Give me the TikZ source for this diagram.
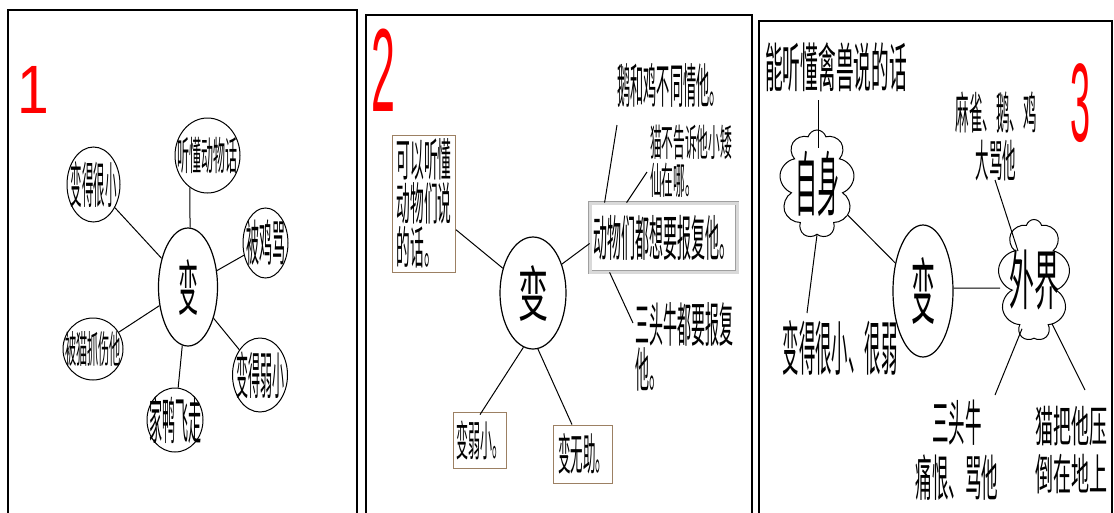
\documentclass[tikz,border=0pt]{standalone}
\usepackage{fontspec}
\usepackage{graphicx}
\usetikzlibrary{shapes.geometric,shapes.symbols}
\newfontfamily\cjk{Noto Sans CJK SC}
\newfontfamily\numfont{Liberation Sans}
\newcommand{\T}[3]{{\cjk\fontsize{#1}{#1}\selectfont\scalebox{1}[#2]{#3}}}
\newcommand{\Dg}[3]{{\numfont\fontsize{#1}{#1}\selectfont\scalebox{1}[#2]{#3}}}
\newcommand{\Ln}[2]{\scalebox{1}[#1]{#2}}
\definecolor{numred}{RGB}{255,0,0}
\begin{document}
\begin{tikzpicture}[x=1pt,y=-1pt,
  panel/.style={draw=black, line width=1.6pt},
  bub/.style={ellipse, draw, line width=1pt, inner sep=0pt},
  hub/.style={ellipse, draw, line width=1.2pt, inner sep=0pt},
  link/.style={draw, line width=1pt},
  tbox/.style={rectangle, draw=brown!45!gray, line width=0.8pt, inner sep=0pt},
  bigbox/.style={rectangle, draw=gray!75, double=gray!30, double distance=3pt, line width=0.8pt, inner sep=0pt},
  puff/.style={cloud, cloud puffs=9, cloud ignores aspect, draw, line width=1pt, inner sep=0pt},
  txt/.style={inner sep=0pt},
  num/.style={inner sep=0pt, text=numred}
]
\useasboundingbox (0,0) rectangle (1114,512);
\fill[white] (0,0) rectangle (1114,512);

% panels
\draw[panel] (8,530) -- (8,10) -- (357,10) -- (357,530);
\draw[panel] (366,530) -- (366,15) -- (752,15) -- (752,530);
\draw[panel] (759,530) -- (759,21) -- (1112,21) -- (1112,530);

% numbers
\node[num] (n1) at (33.5,90) {\Dg{57}{1.2}{1}};
\node[num] (n2) at (383,70) {\Dg{43}{2.75}{2}};
\node[num] (n3) at (1080,103) {\Dg{36}{3.1}{3}};

% ---------- panel 1
\node[hub, minimum width=59, minimum height=118, label={center:{\T{20}{3}{变}}}] (c1) at (188,287) {};
\node[bub, minimum width=53, minimum height=75, label={center:{\T{11.5}{4.3}{变得很小}}}] (s11) at (93.5,184.5) {};
\node[bub, minimum width=65, minimum height=75, label={center:{\T{12}{3.3}{听懂动物话}}}] (s12) at (207.5,155.5) {};
\node[bub, minimum width=45, minimum height=70, label={center:{\T{13}{3.8}{被鸡骂}}}] (s13) at (265.5,243) {};
\node[bub, minimum width=55, minimum height=74, label={center:{\T{12}{4.2}{变得弱小}}}] (s14) at (260,375) {};
\node[bub, minimum width=56, minimum height=64, label={center:{\T{13}{3.9}{家鸭飞走}}}] (s15) at (175,420) {};
\node[bub, minimum width=60, minimum height=62, label={center:{\T{11.2}{3.4}{被猫抓伤他}}}] (s16) at (93,349) {};

\draw[link] (c1) -- (s11);
\draw[link] (c1.88) -- (s12.241);
\draw[link] (c1) -- (s13);
\draw[link] (c1) -- (s14);
\draw[link] (c1) -- (s15);
\draw[link] (c1) -- (s16);

% ---------- panel 2
\node[hub, minimum width=66, minimum height=112, label={center:{\T{30}{2}{变}}}] (c2) at (533,293) {};
\node[tbox, minimum width=63, minimum height=137,
  label={[align=left, font=\cjk\fontsize{13.7}{44}\selectfont]center:{\Ln{3.3}{可以听懂}\\\Ln{3.3}{动物们说}\\\Ln{3.3}{的话。}}}] (b21) at (424,203.5) {};
\node[bigbox, minimum width=147, minimum height=69, label={center:{\T{14}{3.5}{动物们都想要报复他。}}}] (b22) at (663.5,237.5) {};
\node[txt] (t23) at (670,85) {\T{13.2}{3.6}{鹅和鸡不同情他。}};
\node[txt, align=left, font=\cjk\fontsize{11.7}{38}\selectfont] (t24) at (691,161) {\Ln{3.2}{猫不告诉他小矮}\\\Ln{3.2}{仙在哪。}};
\node[txt, align=left, font=\cjk\fontsize{14}{45}\selectfont] (t25) at (684,347) {\Ln{3.4}{三头牛都要报复}\\\Ln{3.4}{他。}};
\node[tbox, minimum width=53, minimum height=56, label={center:{\T{12}{3.5}{变弱小。}}}] (b26) at (480,440) {};
\node[tbox, minimum width=59, minimum height=58, label={center:{\T{12.5}{3.5}{变无助。}}}] (b27) at (583,454) {};

\draw[link] (b21) -- (c2);
\draw[link] (c2.45) -- ([yshift=-6pt]b22.west);
\draw[link] ([xshift=15pt]b22.north west) -- ([xshift=-53pt,yshift=-40pt]t23.center);
\draw[link] ([xshift=37pt]b22.north west) -- ([xshift=-44pt,yshift=-11pt]t24.center);
\draw[link] ([xshift=20pt]b22.south west) -- ([xshift=-51pt,yshift=24pt]t25.center);
\draw[link] (c2.260) -- ([yshift=-3pt]b26.north);
\draw[link] (c2.275) -- ([xshift=-11pt]b27.north);

% ---------- panel 3
\node[txt] (t31) at (836,67) {\T{17.7}{3}{能听懂禽兽说的话}};
\node[puff, minimum width=75, minimum height=108, label={center:{\T{22}{3.2}{自身}}}] (cl32) at (817,184) {};
\node[hub, minimum width=60, minimum height=132, label={center:{\T{24}{3}{变}}}] (c3) at (923,291) {};
\node[puff, minimum width=72, minimum height=121, label={center:{\T{25}{2.6}{外界}}}] (cl33) at (1034,280) {};
\node[txt, align=center, font=\cjk\fontsize{13.5}{48}\selectfont] (t34) at (996,136) {\Ln{3.3}{麻雀、鹅、鸡}\\\Ln{3.3}{大骂他}};
\node[txt] (t35) at (840,348) {\T{16.4}{3.6}{变得很小、很弱}};
\node[txt, align=center, font=\cjk\fontsize{16.5}{55}\selectfont] (t36) at (957,450) {\Ln{3}{三头牛}\\\Ln{3}{痛恨、骂他}};
\node[txt, align=center, font=\cjk\fontsize{18}{48}\selectfont] (t37) at (1071,450) {\Ln{2.4}{猫把他压}\\\Ln{2.4}{倒在地上}};

\draw[link] ([xshift=-18pt,yshift=-33pt]t31.center) -- ([xshift=1pt,yshift=-18pt]cl32.north);
\draw[link] (cl32) -- (c3);
\draw[link] ([yshift=3pt]c3.east) -- ([yshift=-8pt]cl33.west);
\draw[link] (cl32.south) -- ([xshift=-33pt,yshift=35pt]t35.center);
\draw[link] ([xshift=-1pt,yshift=-44pt]t34.center) -- ([xshift=-16pt,yshift=-32pt]cl33.north);
\draw[link] ([xshift=-12pt,yshift=10pt]cl33.south) -- ([xshift=38pt,yshift=55pt]t36.center);
\draw[link] ([xshift=18pt,yshift=15pt]cl33.south) -- ([xshift=14pt,yshift=60pt]t37.center);
\end{tikzpicture}
\end{document}
